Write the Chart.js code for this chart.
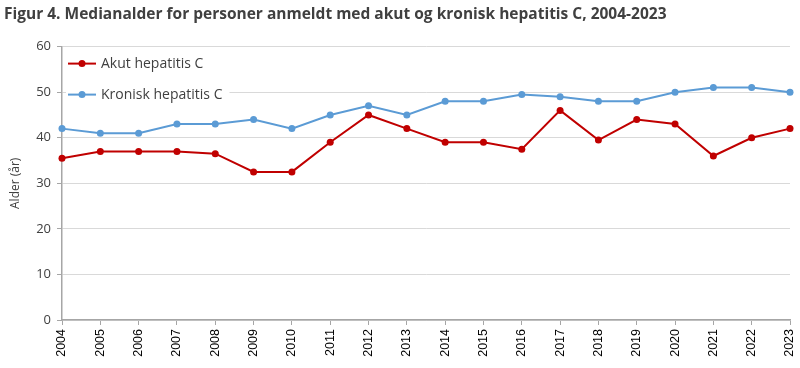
<!DOCTYPE html>
<html>
<head>
<meta charset="utf-8">
<script src="https://cdn.jsdelivr.net/npm/chart.js@4/dist/chart.umd.min.js"></script>
<style>
  html, body { margin: 0; padding: 0; background: #fff; }
  #wrap { width: 800px; height: 368px; position: relative; }
</style>
</head>
<body>
<div id="wrap"><canvas id="chart"></canvas></div>
<script>
// Data
const years = ['2004', '2005', '2006', '2007', '2008', '2009', '2010', '2011', '2012', '2013',
               '2014', '2015', '2016', '2017', '2018', '2019', '2020', '2021', '2022', '2023'];
const akut = [35.5, 37, 37, 37, 36.5, 32.5, 32.5, 39, 45, 42, 39, 39, 37.5, 46, 39.5, 44, 43, 36, 40, 42];
const kronisk = [42, 41, 41, 43, 43, 44, 42, 45, 47, 45, 48, 48, 49.5, 49, 48, 48, 50, 51, 51, 50];
const yTicks = [0, 10, 20, 30, 40, 50, 60];

const RED = '#c00000';
const BLUE = '#5b9bd5';
const TEXT = '#404040';

// Legende tegnet inde i plotområdet (øverst til venstre)
const insideLegend = {
    id: 'insideLegend',
    afterDraw(chart) {
        const ctx = chart.ctx;
        const area = chart.chartArea;
        const items = chart.data.datasets;
        ctx.save();
        ctx.font = '14px "Open Sans", sans-serif';
        ctx.textBaseline = 'middle';
        items.forEach((ds, i) => {
            const y = area.top + 17 + i * 31;
            const x = area.left + 6;
            ctx.fillStyle = '#fff';
            ctx.fillRect(x - 2, y - 9, ctx.measureText(ds.label).width + 42, 18);
            ctx.strokeStyle = ds.borderColor;
            ctx.lineWidth = 2;
            ctx.beginPath();
            ctx.moveTo(x, y);
            ctx.lineTo(x + 28, y);
            ctx.stroke();
            ctx.fillStyle = ds.borderColor;
            ctx.beginPath();
            ctx.arc(x + 14, y, 3.5, 0, Math.PI * 2);
            ctx.fill();
            ctx.fillStyle = TEXT;
            ctx.fillText(ds.label, x + 33, y);
        });
        ctx.restore();
    }
};

new Chart(document.getElementById('chart'), {
    type: 'line',
    data: {
        labels: years,
        datasets: [
            {
                label: 'Akut hepatitis C',
                data: akut,
                borderColor: RED,
                backgroundColor: RED,
                borderWidth: 2,
                pointRadius: 3.5,
                pointBorderWidth: 0,
                tension: 0
            },
            {
                label: 'Kronisk hepatitis C',
                data: kronisk,
                borderColor: BLUE,
                backgroundColor: BLUE,
                borderWidth: 2,
                pointRadius: 3.5,
                pointBorderWidth: 0,
                tension: 0
            }
        ]
    },
    options: {
        responsive: true,
        maintainAspectRatio: false,
        animation: false,
        layout: { padding: { left: 4, right: 10, top: 0, bottom: 0 } },
        plugins: {
            legend: { display: false },
            tooltip: { enabled: false },
            title: {
                display: true,
                align: 'start',
                text: 'Figur 4. Medianalder for personer anmeldt med akut og kronisk hepatitis C, 2004-2023',
                color: TEXT,
                font: { family: '"Open Sans", sans-serif', size: 15.5, weight: 'bold' },
                padding: { top: 5, bottom: 23 }
            }
        },
        scales: {
            x: {
                offset: false,
                afterFit: axis => {
                    axis.height = 48;
                    axis.paddingRight = 0;
                    axis.paddingLeft = 0;
                },
                grid: {
                    display: true,
                    drawOnChartArea: false,
                    drawTicks: true,
                    tickLength: 5,
                    color: '#a6a6a6'
                },
                border: { color: '#a6a6a6', width: 1.5 },
                ticks: {
                    color: '#000',
                    maxRotation: 90,
                    minRotation: 90,
                    autoSkip: false,
                    padding: 4,
                    font: { family: '"Liberation Sans", Arial, sans-serif', size: 12.5 }
                }
            },
            y: {
                min: 0,
                max: 60,
                afterBuildTicks: axis => { axis.ticks = yTicks.map(v => ({ value: v })); },
                afterFit: axis => { axis.width = 58; },
                grid: {
                    color: '#d9d9d9',
                    tickLength: 5,
                    tickColor: '#a6a6a6'
                },
                border: { color: '#a6a6a6', width: 1.5 },
                ticks: {
                    color: TEXT,
                    padding: 6,
                    font: { family: '"Open Sans", sans-serif', size: 13 }
                },
                title: {
                    display: true,
                    text: 'Alder (år)',
                    color: TEXT,
                    padding: { top: 4, bottom: 4 },
                    font: { family: '"Open Sans", sans-serif', size: 12 }
                }
            }
        }
    },
    plugins: [insideLegend]
});
</script>
</body>
</html>
